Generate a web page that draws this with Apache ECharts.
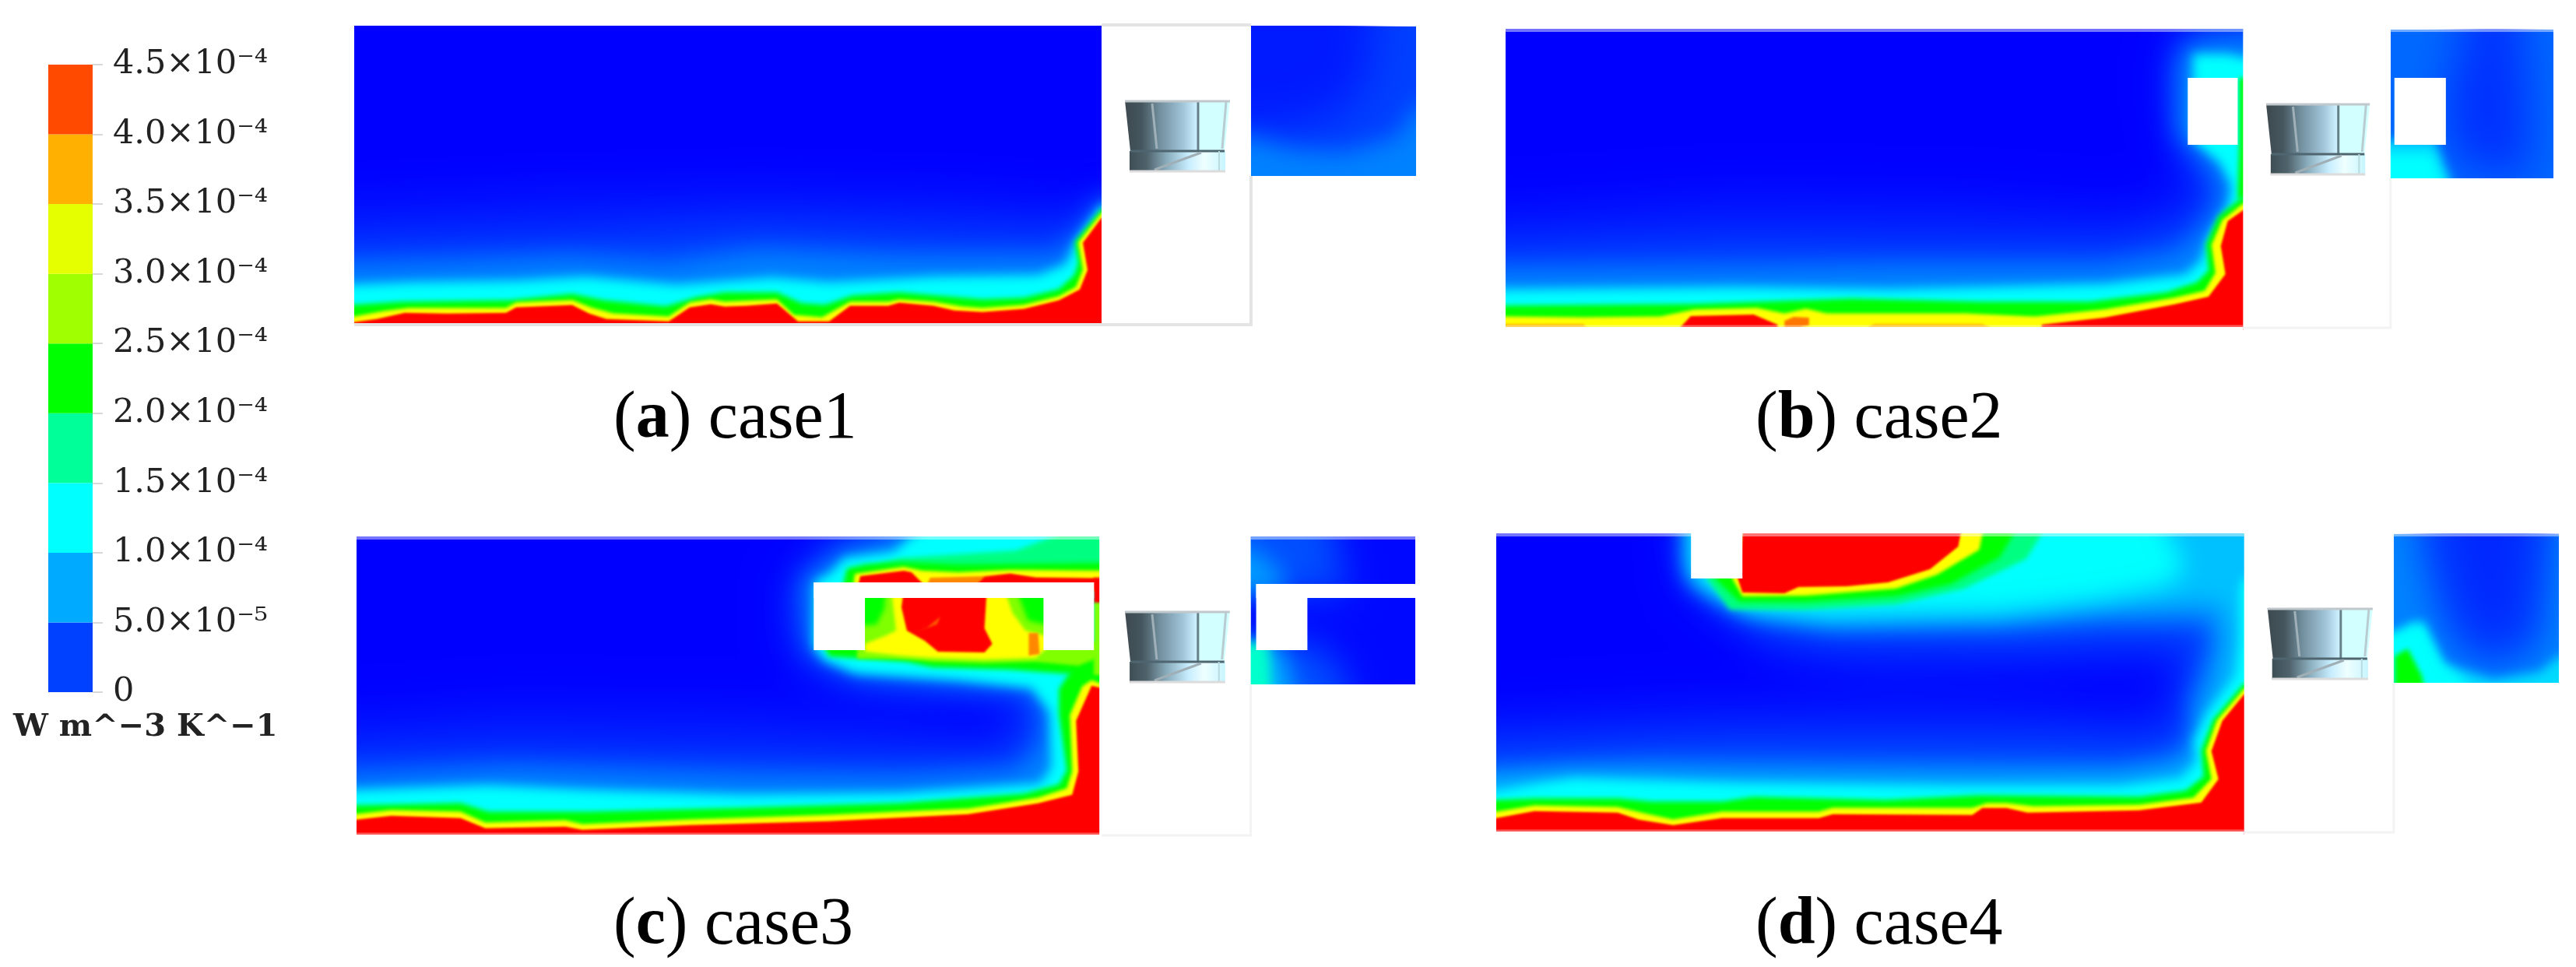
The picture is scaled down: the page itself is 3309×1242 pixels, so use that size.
<!DOCTYPE html>
<html><head><meta charset="utf-8">
<style>html,body{margin:0;padding:0;background:#fff}#c{width:3309px;height:1242px}</style>
<script src="https://cdn.jsdelivr.net/npm/echarts@6/dist/echarts.min.js"></script>
</head><body><div id="c"></div>
<script>
// Colour bar (values in 1e-4 W m^-3 K^-1)
const colorbarTicks = ["0","5.0×10⁻⁵","1.0×10⁻⁴","1.5×10⁻⁴","2.0×10⁻⁴","2.5×10⁻⁴","3.0×10⁻⁴","3.5×10⁻⁴","4.0×10⁻⁴","4.5×10⁻⁴"];
const colorbarColors = ["#0040ff","#00aaff","#00ffff","#00ff99","#00ff00","#a0ff00","#e6ff00","#ffb000","#ff4a00"];
const colorbarStep = 0.5;
const unitLabel = "W m^−3 K^−1";
const fieldColors = ["#0000ff","#0082ff","#00ffff","#00ff80","#00ff00","#80ff00","#ffff00","#ffaa00","#ff5500","#ff0000"];

// Contour lines: [distance along floor, height above floor]
const roomBase = [[0,0],[960,0],[960,386],[0,386]];
const floorStrip = [[-10,-10],[960,-10],[960,0],[-10,0]];
const ceilingStrip = [[-10,383],[1374,383],[1374,390],[-10,390]];
// case 1 main room
const c1_010 = [[0,160],[250,172],[520,178],[800,170],[900,160],[960,165]];
const c1_025 = [[0,110],[300,118],[520,130],[800,120],[900,118],[945,130],[960,158]];
const c1_050 = [[0,72],[130,76],[280,82],[400,74],[520,90],[700,82],[900,82],[928,105],[945,125],[960,150]];
const c1_100 = [[0,45],[74,48],[208,50],[298,55],[414,45],[538,54],[610,48],[744,55],[878,57],[914,71],[927,100],[960,146]];
const c1_200 = [[0,22],[60,26],[200,28],[280,36],[320,28],[400,20],[440,32],[476,38],[543,38],[575,24],[605,22],[640,34],[700,38],[760,33],[807,29],[860,31],[905,42],[925,60],[930,75],[926,103],[960,145]];
const c1_300 = [[0,8],[38,15],[70,19],[195,19],[208,26],[280,29],[306,19],[333,12],[404,8],[431,26],[458,30],[476,27],[543,30],[565,10],[601,7],[637,27],[686,27],[700,30],[744,27],[780,21],[807,19],[860,23],[905,34],[927,46],[936,68],[930,103],[960,141]];
const c1_450 = [[0,1],[29,5],[65,13],[119,12],[195,13],[208,20],[280,23],[302,12],[324,5],[404,2],[431,20],[458,24],[476,21],[503,22],[543,25],[570,2],[610,2],[637,22],[686,22],[700,26],[744,22],[771,16],[807,14],[860,18],[905,29],[932,43],[942,68],[936,103],[960,135]];
// case 1 right room
const c1r_base = [[1152,190],[1364,190],[1364,382],[1152,382]];
const c1r_core = [[1152,382],[1310,382],[1300,310],[1255,265],[1200,255],[1152,250]];
const c1r_050 = [[1152,190],[1152,240],[1200,225],[1270,220],[1340,240],[1364,280],[1364,190]];
const c1r_100a = [[1152,190],[1152,215],[1215,190]];
const c1r_100b = [[1364,190],[1364,245],[1325,190]];
const c1_housing = [[960,-4],[960,386],[1152,386],[1152,190],[1364,190],[1364,-4]];
const c1_rimFloor = [[0,-1],[1152,-1],[1152,190]];
const c1_rimTop = [[960,384],[1152,384]];

// case 2 main room
const c2_010 = [[0,150],[300,170],[600,165],[800,150],[880,175],[880,220],[860,320],[880,382],[960,382]];
const c2_025 = [[0,105],[300,115],[600,112],[800,110],[890,135],[915,175],[880,230],[870,320],[880,365],[920,380],[960,382]];
const c2_050 = [[0,70],[300,72],[500,75],[780,75],[870,90],[900,115],[925,150],[930,175],[905,215],[875,240],[875,320],[880,350],[910,362],[960,365]];
const c2_100 = [[0,43],[300,46],[500,43],[780,50],[885,62],[905,80],[915,110],[940,150],[945,175],[930,205],[895,234],[895,322],[895,345],[915,345],[940,345],[960,340]];
const c2_200 = [[0,25],[240,27],[330,30],[450,34],[620,30],[760,30],[860,42],[900,55],[915,70],[912,104],[928,140],[960,165]];
const c2_wall = [[953,165],[955,230],[955,320],[960,320],[960,165]];
const c2_300 = [[0,12],[101,11],[201,12],[246,21],[327,23],[363,16],[391,22],[418,16],[598,16],[689,12],[779,21],[870,36],[910,45],[924,68],[919,104],[933,136],[960,157]];
const c2_350a = [[0,0],[0,4],[101,4],[105,0]];
const c2_350b = [[472,0],[480,4],[620,4],[630,0]];
const c2_380 = [[363,0],[363,8],[375,13],[395,12],[395,2],[385,0]];
const c2_450a = [[228,0],[241,14],[323,16],[354,3],[354,0]];
const c2_450b = [[698,3],[779,12],[870,29],[915,39],[937,68],[931,104],[940,136],[960,150],[960,0],[698,0]];
// case 2 right room
const c2r_base = [[1152,191],[1364,191],[1364,382],[1152,382]];
const c2r_core = [[1249,382],[1249,364],[1227,320],[1227,232],[1267,200],[1331,193],[1331,300],[1322,382]];
const c2r_075 = [[1152,191],[1152,240],[1210,240],[1225,200],[1230,191]];
const c2r_100 = [[1152,191],[1152,222],[1205,222],[1218,191]];
const c2_housing = [[960,-4],[960,386],[1152,386],[1152,191],[1364,191],[1364,-4]];
const c2_block = [[888,234],[953,234],[953,320],[888,320]];
const c2_blockR = [[1157,234],[1224,234],[1224,320],[1157,320]];

// case 3 main room
const c3_010 = [[0,150],[200,165],[500,160],[700,145],[800,130],[860,165],[850,190],[700,180],[590,200],[560,236],[555,320],[610,384],[960,384]];
const c3_025 = [[0,105],[200,110],[500,105],[700,100],[840,100],[870,150],[860,178],[760,186],[640,198],[575,236],[565,320],[615,365],[670,384],[960,384]];
const c3_050 = [[0,72],[200,82],[500,72],[700,70],[850,78],[882,110],[885,155],[865,182],[775,190],[650,200],[595,225],[583,236],[575,320],[625,358],[685,372],[700,384],[960,384]];
const c3_100 = [[0,52],[170,58],[300,52],[500,46],[700,48],[880,60],[895,80],[893,152],[870,183],[775,193],[642,202],[602,219],[589,236],[591,320],[609,329],[629,350],[692,358],[716,378],[729,384],[960,384]];
const c3_200 = [[0,35],[134,38],[170,27],[300,27],[500,32],[700,38],[860,50],[905,62],[915,80],[905,152],[905,185],[925,215],[960,220]];
const c3_300 = [[0,25],[45,30],[134,28],[166,14],[269,17],[291,12],[430,18],[609,24],[788,32],[878,46],[915,58],[922,80],[919,152],[935,189],[947,197],[960,192]];
const c3_450 = [[0,18],[45,23],[134,20],[166,7],[269,9],[291,5],[430,11],[609,16],[788,25],[878,39],[922,50],[930,80],[927,145],[947,190],[960,187]];
const c3_under200 = [[600,246],[609,229],[709,222],[742,215],[842,212],[909,207],[960,205],[960,246]];
const c3_under250 = [[655,246],[655,232],[742,222],[809,220],[875,222],[930,217],[950,225],[960,235],[960,246]];
const c3_inner250 = [[645,226],[895,226],[895,314],[645,314]];
const c3_inner200a = [[645,314],[682,314],[680,290],[670,270],[645,268]];
const c3_inner200b = [[850,314],[895,314],[895,268],[865,275]];
const c3_inner300 = [[689,314],[695,262],[680,255],[655,245],[655,235],[700,230],[742,227],[809,225],[875,227],[890,240],[890,255],[862,262],[845,285],[835,314]];
const c3_inner450 = [[705,314],[812,314],[809,265],[819,245],[809,234],[749,235],[732,249],[709,262],[702,292]];
const c3_inner380 = [[735,266],[752,280],[748,270],[720,260]];
const c3_innerStreak = [[866,259],[878,259],[880,232],[866,230]];
const c3_top150 = [[650,342],[700,355],[850,365],[900,384],[960,384],[960,330]];
const c3_top200 = [[625,314],[632,342],[655,347],[702,350],[775,347],[960,349],[960,314]];
const c3_top300 = [[639,314],[642,335],[705,344],[729,339],[775,337],[842,340],[960,339],[960,314]];
const c3_top370 = [[732,314],[739,330],[809,332],[842,335],[875,330],[960,329],[960,314]];
const c3_top450 = [[645,314],[649,332],[705,339],[715,337],[732,320],[800,322],[809,331],[842,335],[875,330],[952,329],[952,314]];
const c3_wallStrip = [[950,205],[960,205],[960,300],[950,300]];
const c3_wallRed = [[950,298],[960,298],[960,330],[950,330]];
// case 3 right room
const c3r_base = [[1152,193],[1364,193],[1364,384],[1152,384]];
const c3r_top030 = [[1152,310],[1152,384],[1260,384],[1280,310]];
const c3r_top060 = [[1152,310],[1152,370],[1190,340],[1200,310]];
const c3r_low030 = [[1152,193],[1152,246],[1240,246],[1280,193]];
const c3r_low070 = [[1152,193],[1152,246],[1190,246],[1205,193]];
const c3r_low120 = [[1152,193],[1152,246],[1175,246],[1178,193]];
const c3_housing = [[957,-4],[957,386],[1152,386],[1152,193],[1364,193],[1364,-4]];
const c3_blockBar = [[589,304],[950,304],[950,324],[589,324]];
const c3_blockL = [[589,237],[655,237],[655,324],[589,324]];
const c3_blockC = [[885,237],[950,237],[950,324],[885,324]];
const c3_blockRBar = [[1159,304],[1364,304],[1364,322],[1159,322]];
const c3_blockRLeg = [[1159,237],[1225,237],[1225,322],[1159,322]];

// case 4 main room
const c4_010 = [[0,150],[250,165],[330,165],[500,172],[650,170],[800,155],[860,170],[865,220],[780,215],[500,205],[400,215],[340,235],[290,270],[245,320],[240,382],[960,382]];
const c4_025 = [[0,115],[300,125],[700,125],[860,120],[885,160],[890,220],[880,240],[780,240],[650,235],[430,238],[350,250],[300,285],[245,325],[240,382],[960,382]];
const c4_050 = [[0,75],[200,85],[600,82],[800,80],[870,92],[895,120],[890,160],[905,200],[920,240],[905,262],[780,262],[650,255],[430,255],[340,270],[280,300],[248,325],[248,382],[960,382]];
const c4_075 = [[0,60],[100,68],[300,62],[600,60],[800,62],[880,72],[905,100],[905,140],[925,180],[938,240],[930,285],[780,282],[650,270],[430,265],[330,280],[275,310],[250,330],[250,382],[960,382]];
const c4_100 = [[0,45],[50,55],[100,62],[300,56],[600,52],[800,52],[880,62],[900,85],[895,110],[912,145],[950,195],[955,240],[955,310],[960,320]];
const c4_100top = [[254,325],[317,287],[423,280],[646,284],[780,300],[865,318],[885,345],[860,382],[254,382]];
const c4_200 = [[0,38],[49,40],[156,40],[200,36],[290,36],[330,42],[500,38],[620,44],[825,42],[885,50],[908,68],[905,102],[920,141],[960,188]];
const c4_300 = [[0,24],[49,32],[156,30],[190,22],[227,14],[290,24],[414,24],[432,29],[611,29],[630,35],[655,35],[690,31],[825,33],[895,42],[918,66],[911,102],[925,141],[960,182]];
const c4_450 = [[0,16],[49,25],[156,23],[183,14],[227,7],[290,16],[414,16],[432,21],[611,20],[624,29],[655,29],[682,23],[825,26],[905,36],[927,66],[918,102],[932,141],[960,175]];
const c4_top150 = [[270,325],[300,285],[397,285],[513,292],[600,312],[680,350],[700,382],[300,382]];
const c4_top200 = [[281,325],[312,295],[397,295],[513,302],[584,318],[646,352],[664,382],[316,382]];
const c4_top300 = [[303,325],[316,302],[397,303],[513,312],[566,330],[620,362],[624,382],[316,382]];
const c4_top450 = [[310,325],[316,307],[370,306],[388,314],[450,315],[503,320],[557,337],[593,366],[596,382],[316,382]];
// case 4 right room
const c4r_base = [[1152,191],[1364,191],[1364,382],[1152,382]];
const c4r_030 = [[1185,382],[1210,280],[1240,225],[1290,210],[1340,240],[1352,382]];
const c4r_015 = [[1210,382],[1230,300],[1255,245],[1290,235],[1320,260],[1335,382]];
const c4r_075 = [[1152,191],[1152,250],[1180,270],[1215,215],[1280,195],[1340,205],[1364,225],[1364,191]];
const c4r_100a = [[1152,191],[1152,255],[1190,270],[1215,215],[1245,191]];
const c4r_100b = [[1325,191],[1364,191],[1364,225]];
const c4r_200 = [[1153,191],[1153,225],[1170,235],[1188,200],[1190,191]];
const c4_housing = [[960,-4],[960,386],[1152,386],[1152,191],[1364,191],[1364,-4]];
const c4_block = [[250,325],[316,325],[316,386],[250,386]];

// Fan, read in the same room units (lower-left corner at fanX, fanY)
const fanX = 990, fanY = 195;
const fanUpper = [[0,92],[135,92],[128,27],[7,27]];
const fanLower = [[6,27],[129,27],[129,0],[6,0]];
const fanLines = [
  {pts:[[35,88],[41,30]], color:"#9fb0b8", w:3},
  {pts:[[94,90],[94,28]], color:"#66808a", w:3},
  {pts:[[130,90],[125,30]], color:"#b8ccd2", w:3},
  {pts:[[7,27],[128,27]], color:"#4f6670", w:3},
  {pts:[[98,25],[38,3]], color:"#a0afb6", w:3},
  {pts:[[121,27],[121,1]], color:"#b8dbe0", w:2},
  {pts:[[0,91],[135,91]], color:"#c0c8cc", w:3},
  {pts:[[6,1],[129,1]], color:"#dcdcdc", w:3}
];

const captions = [
  {tag:"a", name:" case1", left:788, top:496},
  {tag:"b", name:" case2", left:2255, top:496},
  {tag:"c", name:" case3", left:788, top:1146},
  {tag:"d", name:" case4", left:2255, top:1146}
];

const band = e => { const p = e.concat([[960,0],[0,0]]); p.fromFloor = true; return p; };
const softTop = (bottom) => [
  {pts:[[0,381],[960,381]], color:"rgba(255,255,255,0.45)", w:4},
  {pts:[[1152,381],[1364,381]], color:"rgba(255,255,255,0.45)", w:4},
  {pts:[[0,1],[960,1]], color:"rgba(255,255,255,0.35)", w:3},
  {pts:[[960,-1],[1152,-1],[1152,bottom]], color:"#f3f3f3", w:3}
];
const panels = [
 {rect:{left:455,top:30,width:1364,height:390},
  layers:[[0,roomBase,1],[0.1,band(c1_010)],[0.25,band(c1_025)],[0.5,band(c1_050)],[1,band(c1_100)],[2,band(c1_200)],[3,band(c1_300)],[4.5,band(c1_450)],
          [0.25,c1r_base,1],[0.1,c1r_core],[0.5,c1r_050],[1,c1r_100a],[1,c1r_100b]],
  housing:c1_housing, blocks:[],
  rims:[{pts:c1_rimFloor,color:"#e4e4e4",w:4},{pts:c1_rimTop,color:"#e4e4e4",w:4}]},
 {rect:{left:1934,top:34,width:1346,height:390},
  layers:[[0,roomBase,1],[0.1,band(c2_010)],[0.25,band(c2_025)],[0.5,band(c2_050)],[1,band(c2_100)],[2,band(c2_200)],[2,c2_wall],[3,band(c2_300)],
          [3.4,c2_350a],[3.4,c2_350b],[3.8,c2_380],[4.5,c2_450a],[4.5,c2_450b],
          [0.4,c2r_base,1],[0.18,c2r_core],[0.85,c2r_075],[1,c2r_100]],
  housing:c2_housing, blocks:[c2_block,c2_blockR], rims:softTop(191)},
 {rect:{left:458,top:686,width:1360,height:390},
  layers:[[0,roomBase,1],[0.1,band(c3_010)],[0.25,band(c3_025)],[0.5,band(c3_050)],[1,band(c3_100)],[2,band(c3_200)],[3,band(c3_300)],[4.5,band(c3_450)],
          [2,c3_under200],[2.5,c3_under250],[2.5,c3_inner250],[2,c3_inner200a],[2,c3_inner200b],[3,c3_inner300],[4.5,c3_inner450],[4,c3_inner380],[3.7,c3_innerStreak],
          [1.5,c3_top150],[2,c3_top200],[3,c3_top300],[3.7,c3_top370],[4.5,c3_top450],[2.5,c3_wallStrip],[4.5,c3_wallRed],
          [0.03,c3r_base,1],[0.3,c3r_top030],[0.6,c3r_top060],[0.3,c3r_low030],[0.7,c3r_low070],[1.2,c3r_low120]],
  housing:c3_housing, blocks:[c3_blockBar,c3_blockL,c3_blockC,c3_blockRBar,c3_blockRLeg], rims:softTop(193)},
 {rect:{left:1922,top:682,width:1365,height:390},
  layers:[[0,roomBase,1],[0.1,band(c4_010)],[0.25,band(c4_025)],[0.5,band(c4_050)],[0.75,band(c4_075)],[1,band(c4_100)],[1,c4_100top,0,30],[2,band(c4_200)],[3,band(c4_300)],[4.5,band(c4_450)],
          [1.5,c4_top150],[2,c4_top200],[3,c4_top300],[4.5,c4_top450],
          [0.5,c4r_base,1],[0.3,c4r_030],[0.15,c4r_015],[0.85,c4r_075],[1,c4r_100a],[1,c4r_100b],[2,c4r_200]],
  housing:c4_housing, blocks:[c4_block], rims:softTop(191)}
];

// softening of each contour so that the colours run into one another as in the picture
const blurFor = l => l < 0.2 ? 56 : l < 0.4 ? 46 : l <= 0.8 ? 30 : l <= 1.2 ? 14 : l <= 2 ? 6 : l <= 3 ? 4 : 3;
const FAR = 6000;
// carry polygon edges that lie on a room boundary past it, so the softening does not fade at the walls
const wallPush = q => {
  let [x,y] = q;
  const right = x >= 1152;
  if (x === 0) x = -90; else if (x === 960) x = 1040; else if (x === 1152) x = 1080; else if (x === 1364) x = 1440;
  if (y === 0) y = -90; else if (right && y >= 190 && y <= 193) y = 100;
  if (y >= 382) y = 480;
  return [x,y];
};
const pastWalls = poly => {
  const out = [], n = poly.length, moved = q => { const e = wallPush(q); return e[0] !== q[0] || e[1] !== q[1]; };
  poly.forEach((q,i) => {
    if (!moved(q)) { out.push(q); return; }
    if (!moved(poly[(i+n-1)%n])) out.push(q);
    out.push(wallPush(q));
    if (!moved(poly[(i+1)%n])) out.push(q);
  });
  return out;
};

const grid = [], xAxis = [], yAxis = [], series = [], contourIdx = [];
panels.forEach((p,i) => {
  grid.push(Object.assign({containLabel:false}, p.rect));
  xAxis.push({type:"value", gridIndex:i, min:0, max:1364, show:false});
  yAxis.push({type:"value", gridIndex:i, min:-4, max:386, show:false});
  contourIdx.push(series.length);
  series.push({
    type:"custom", xAxisIndex:i, yAxisIndex:i, clip:true, silent:true,
    data:p.layers.map((l,k)=>[l[0],k]),
    encode:{x:1,y:1},
    renderItem:(params,api)=>{
      const lvl = api.value(0), layer = p.layers[api.value(1)];
      const col = api.visual("color");
      if (layer[2]) return {type:"polygon", shape:{points:layer[1].map(q=>api.coord(q))}, style:{fill:col}};
      // the polygon sits outside the plot and only its soft shadow lands inside it
      const pts = pastWalls(layer[1]).map(q=>{const c=api.coord(q); return [c[0]-FAR,c[1]];});
      const blur = layer[3] || blurFor(lvl);
      // a soft edge shows the contour's pure colour only inside it, so floor bands are raised to keep that colour at the read height
      const lift = layer[1].fromFloor && lvl >= 0.5 ? Math.min(blur*0.4, 6) : 0;
      return {type:"polygon", shape:{points:pts},
              style:{fill:col, shadowBlur:blur, shadowColor:col, shadowOffsetX:FAR, shadowOffsetY:-lift}};
    }
  });
  // white walls, blocks, rim and fan on top
  const solids = [p.housing, floorStrip, ceilingStrip].concat(p.blocks);
  series.push({
    type:"custom", xAxisIndex:i, yAxisIndex:i, clip:true, silent:true,
    data:solids.map((s,k)=>[k,0]), encode:{x:1,y:1},
    renderItem:(params,api)=>({type:"polygon", shape:{points:solids[api.value(0)].map(q=>api.coord(q))}, style:{fill:"#fff"}})
  });
  series.push({
    type:"custom", xAxisIndex:i, yAxisIndex:i, clip:false, silent:true,
    data:p.rims.map((s,k)=>[k,0]), encode:{x:1,y:1},
    renderItem:(params,api)=>{
      const r = p.rims[api.value(0)];
      return {type:"polyline", shape:{points:r.pts.map(q=>api.coord(q))}, style:{fill:null, stroke:r.color, lineWidth:r.w}};
    }
  });
  const grad = (stops)=>new echarts.graphic.LinearGradient(0,0,1,0,stops.map(s=>({offset:s[0],color:s[1]})));
  const upperStops=[[0,"#3d4a50"],[0.16,"#45565e"],[0.32,"#6f8c9a"],[0.55,"#a0c4d8"],[0.68,"#cdf0ff"],[0.7,"#d2ffff"],[1,"#d2ffff"]];
  const lowerStops=[[0,"#3f4e55"],[0.18,"#4f636c"],[0.4,"#8db0c0"],[0.62,"#c8eeff"],[0.78,"#efffff"],[1,"#c8f5ff"]];
  series.push({
    type:"custom", xAxisIndex:i, yAxisIndex:i, clip:false, silent:true,
    data:[[0,0]], encode:{x:1,y:1},
    renderItem:(params,api)=>{
      const at = q => api.coord([fanX+q[0], fanY+q[1]]);
      const kids = [
        {type:"polygon", shape:{points:fanUpper.map(at)}, style:{fill:grad(upperStops)}},
        {type:"polygon", shape:{points:fanLower.map(at)}, style:{fill:grad(lowerStops)}}
      ];
      fanLines.forEach(l=>kids.push({type:"polyline", shape:{points:l.pts.map(at)}, style:{fill:null, stroke:l.color, lineWidth:l.w}}));
      return {type:"group", children:kids};
    }
  });
});

// Colour bar as a stacked bar on a value axis
const cb = panels.length;
grid.push({left:62, top:83, width:57, height:806});
xAxis.push({type:"category", gridIndex:cb, data:["field"], show:false});
yAxis.push({type:"value", gridIndex:cb, position:"right", min:0, max:4.5, interval:colorbarStep,
  axisLine:{show:false}, splitLine:{show:false},
  axisTick:{show:true, length:13, lineStyle:{color:"#d8d8d8", width:2}},
  axisLabel:{show:true, margin:26, color:"#222", fontFamily:"DejaVu Serif", fontSize:43,
    formatter:v=>colorbarTicks[Math.round(v/colorbarStep)]}});
colorbarColors.forEach(c=>series.push({type:"bar", xAxisIndex:cb, yAxisIndex:cb, stack:"cb", barWidth:57, silent:true,
  data:[colorbarStep], itemStyle:{color:c}}));

const title = captions.map(c=>({left:c.left, top:c.top, padding:0,
  text:"{p|(}{b|"+c.tag+"}{p|)"+c.name+"}",
  textStyle:{fontWeight:"normal",rich:{p:{fontFamily:"Liberation Serif",fontSize:86,fontWeight:"normal",color:"#000"},b:{fontFamily:"Liberation Serif",fontSize:86,fontWeight:"bold",color:"#000"}}}}));
title.push({left:17, top:915, padding:0, text:unitLabel, textStyle:{fontFamily:"DejaVu Serif",fontSize:40,fontWeight:"bold",color:"#222"}});

const chart = echarts.init(document.getElementById("c"), null, {renderer:"canvas"});
chart.setOption({
  animation:false, backgroundColor:"#fff", title, grid, xAxis, yAxis, series,
  visualMap:{type:"continuous", show:false, min:0, max:4.5, dimension:0, seriesIndex:contourIdx, inRange:{color:fieldColors}}
});
</script></body></html>
